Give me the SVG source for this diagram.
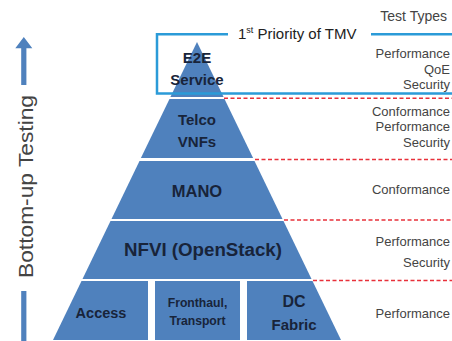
<svg xmlns="http://www.w3.org/2000/svg" width="452" height="341" viewBox="0 0 452 341">
<style>
.layer{fill:#4f81bd}
.lbl{font-family:"Liberation Sans",Arial,sans-serif;font-weight:bold;fill:#18243a;text-anchor:middle}
.tt{font-family:"Liberation Sans",Arial,sans-serif;font-size:13px;fill:#444;text-anchor:end}
.sep{stroke:#e8303a;stroke-width:1.6;stroke-dasharray:4 2.5;fill:none}
.frame{stroke:#2b9bd8;stroke-width:2.5;fill:none}
</style>
<rect width="452" height="341" fill="#fff"/>
<g id="axis">
<polygon class="layer" points="23.8,37 32.3,48.3 26.4,48.3 26.4,85 21.2,85 21.2,48.3 15.3,48.3"/>
<rect class="layer" x="21.2" y="291" width="5.2" height="50"/>
<text transform="translate(33,186.5) rotate(-90)" font-family="'Liberation Sans',Arial,sans-serif" font-size="21" fill="#444" text-anchor="middle" textLength="183" lengthAdjust="spacingAndGlyphs">Bottom-up Testing</text>
</g>
<g id="e2e">
<polygon class="layer" points="197,42 223.6,97 170.4,97"/>
<text class="lbl" x="197" y="63" font-size="15">E2E</text>
<text class="lbl" x="197" y="85" font-size="15">Service</text>
</g>
<g id="telco">
<polygon class="layer" points="169.5,99 224.5,99 253.1,158 140.9,158"/>
<text class="lbl" x="197" y="124.5" font-size="15">Telco</text>
<text class="lbl" x="197" y="146.5" font-size="15">VNFs</text>
</g>
<g id="mano">
<polygon class="layer" points="139.5,161 254.5,161 282.5,219 111.5,219"/>
<text class="lbl" x="197" y="196.5" font-size="16.5">MANO</text>
</g>
<g id="nfvi">
<polygon class="layer" points="110.5,221 283.5,221 311.5,279 82.5,279"/>
<text class="lbl" x="203" y="256" font-size="18" textLength="158" lengthAdjust="spacingAndGlyphs">NFVI (OpenStack)</text>
</g>
<g id="access">
<polygon class="layer" points="81.5,281 148,281 148,340 53,340"/>
<text class="lbl" x="101" y="318" font-size="14.5">Access</text>
</g>
<g id="fronthaul">
<rect class="layer" x="155" y="281" width="85" height="59"/>
<text class="lbl" x="197.5" y="307" font-size="12.2">Fronthaul,</text>
<text class="lbl" x="197.5" y="325" font-size="12.2">Transport</text>
</g>
<g id="dcfabric">
<polygon class="layer" points="247,281 312.5,281 341,340 247,340"/>
<text class="lbl" x="294" y="306.5" font-size="16">DC</text>
<text class="lbl" x="294" y="330" font-size="15">Fabric</text>
</g>
<g id="connectors">
<path class="frame" d="M228 34.3H157V93.5H452M371 34.3H452"/>
<path class="sep" d="M224 98.2H452M255 159.5H452M284 220H452M313 280.5H452"/>
</g>
<g id="priority">
<text x="238" y="38.5" font-family="'Liberation Sans',Arial,sans-serif" font-size="15" fill="#222">1<tspan font-size="9" dy="-6">st</tspan><tspan dy="6"> Priority of TMV</tspan></text>
</g>
<g id="testtypes">
<text class="tt" x="447" y="21" font-size="14" style="font-size:14px">Test Types</text>
<text class="tt" x="450" y="58">Performance</text>
<text class="tt" x="450" y="73.5">QoE</text>
<text class="tt" x="450" y="89">Security</text>
<text class="tt" x="450" y="115.5">Conformance</text>
<text class="tt" x="450" y="131">Performance</text>
<text class="tt" x="450" y="146.5">Security</text>
<text class="tt" x="450" y="193.5">Conformance</text>
<text class="tt" x="450" y="246">Performance</text>
<text class="tt" x="450" y="267">Security</text>
<text class="tt" x="450" y="318">Performance</text>
</g>
</svg>
